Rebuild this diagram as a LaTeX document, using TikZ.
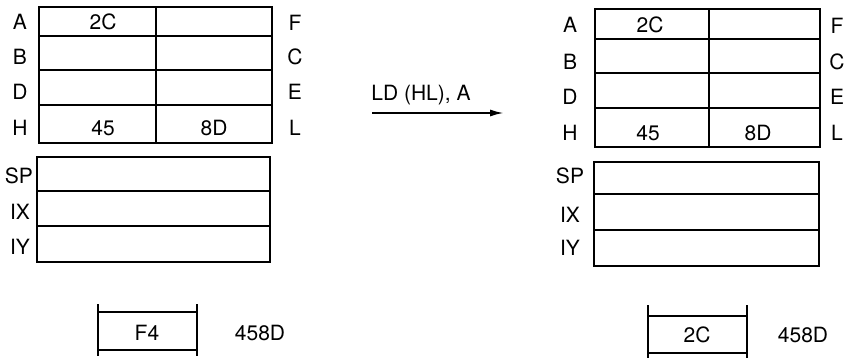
\documentclass[tikz,border=0pt]{standalone}
\usepackage{fontspec}
\setmainfont{TeX Gyre Heros}
\usetikzlibrary{arrows.meta}
\begin{document}
\begin{tikzpicture}[x=1pt,y=-1pt,
  reg/.style={line width=2.1pt},
  lbl/.style={font=\fontsize{21}{21}\selectfont, inner sep=0pt, anchor=center},
  arr/.style={line width=2pt,-{Latex[length=14pt,width=7pt]}}]
\useasboundingbox (0,0) rectangle (849,358);
% ---------- left state ----------
\draw[reg] (39,7) rectangle (272,143);
\draw[reg] (156,7) -- (156,143);
\draw[reg] (39,36) -- (272,36) (39,70) -- (272,70) (39,105) -- (272,105);
\node[lbl] (lA) at (20,22) {A};
\node[lbl] (lB) at (20,57) {B};
\node[lbl] (lD) at (20,92) {D};
\node[lbl] (lH) at (20,128) {H};
\node[lbl] (lF) at (295,23) {F};
\node[lbl] (lC) at (295,57) {C};
\node[lbl] (lE) at (295,92) {E};
\node[lbl] (lL) at (295,128) {L};
\node[lbl] (lv2C) at (103,22) {2C};
\node[lbl] (lv45) at (103,128) {45};
\node[lbl] (lv8D) at (214,128) {8D};
\draw[reg] (37,157) rectangle (270,262);
\draw[reg] (37,191) -- (270,191) (37,226) -- (270,226);
\node[lbl] (lSP) at (19,176) {SP};
\node[lbl] (lIX) at (20,212) {IX};
\node[lbl] (lIY) at (20,247) {IY};
\draw[reg] (98,304) -- (98,356) (197,304) -- (197,356);
\draw[reg] (98,312) -- (197,312) (98,350) -- (197,350);
\node[lbl] (lF4) at (147,333) {F4};
\node[lbl] (laddr) at (260,333) {458D};
% ---------- arrow ----------
\coordinate (as) at (372,113);
\coordinate (ae) at (504,113);
\draw[arr] (as) -- (ae);
\node[lbl] (instr) at (421,95) {LD (HL), A};
% ---------- right state ----------
\draw[reg] (595,9) rectangle (820,147);
\draw[reg] (709,9) -- (709,147);
\draw[reg] (595,39) -- (820,39) (595,73) -- (820,73) (595,108) -- (820,108);
\node[lbl] (rA) at (570,25) {A};
\node[lbl] (rB) at (570,62) {B};
\node[lbl] (rD) at (570,97) {D};
\node[lbl] (rH) at (570,133) {H};
\node[lbl] (rF) at (837,26) {F};
\node[lbl] (rC) at (837,62) {C};
\node[lbl] (rE) at (837,97) {E};
\node[lbl] (rL) at (837,133) {L};
\node[lbl] (rv2C) at (650,25) {2C};
\node[lbl] (rv45) at (648,133) {45};
\node[lbl] (rv8D) at (758,133) {8D};
\draw[reg] (594,162) rectangle (819,266);
\draw[reg] (594,194) -- (819,194) (594,230) -- (819,230);
\node[lbl] (rSP) at (570,176) {SP};
\node[lbl] (rIX) at (570,215) {IX};
\node[lbl] (rIY) at (570,248) {IY};
\draw[reg] (648,305) -- (648,358) (747,305) -- (747,358);
\draw[reg] (648,316) -- (747,316) (648,353) -- (747,353);
\node[lbl] (r2C) at (697,335) {2C};
\node[lbl] (raddr) at (803,335) {458D};
\end{tikzpicture}
\end{document}
